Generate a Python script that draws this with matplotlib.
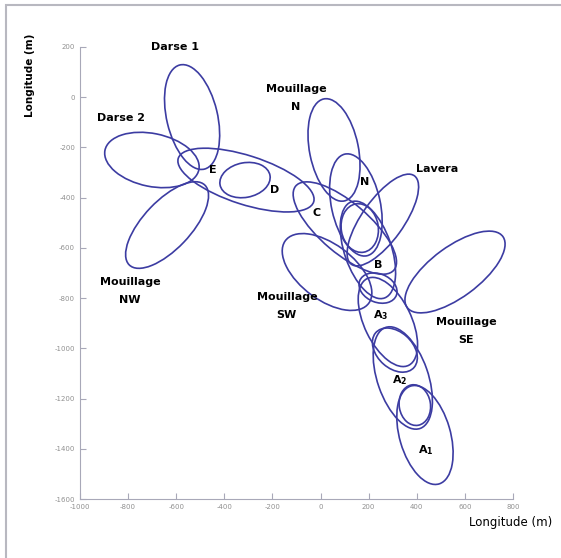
import numpy as np
import matplotlib
matplotlib.use('Agg')
import matplotlib.pyplot as plt
from matplotlib.patches import Ellipse, Rectangle

# ellipses : centre x, centre y, width, height, angle (deg)
names = ['Darse 1', 'Darse 2', 'NW', 'E-D', 'D', 'Mouillage N', 'N', 'Lavera',
         'C', 'inner', 'B', 'SW', 'SE', 'A3 small', 'A3', 'A2 small', 'A2',
         'A1 small', 'A1']
cx = [-534, -701, -638, -310, -314, 56, 147, 259, 101, 163, 197, 27, 559,
      239, 280, 309, 342, 392, 434]
cy = [-79, -250, -509, -330, -330, -210, -429, -489, -521, -521, -608, -696,
      -696, -760, -895, -1007, -1118, -1226, -1345]
ew = [427, 398, 447, 589, 211, 415, 415, 439, 528, 195, 407, 427, 488, 163,
      386, 211, 427, 163, 407]
eh = [211, 211, 195, 195, 138, 203, 203, 171, 203, 154, 195, 224, 203, 114,
      195, 146, 211, 130, 211]
ang = [104, -11, 45, -17, 10, 102, 103, 53, -39, 100, 110, -35, 35, -20, 117,
       -40, 110, 100, 107]

# labels
lab_txt = ['Darse 1', 'Darse 2', 'Mouillage\nN', 'E', 'D', 'C', 'N', 'Lavera',
           'B', 'Mouillage\nNW', 'Mouillage\nSW', 'A$_3$', 'Mouillage\nSE',
           'A$_2$', 'A$_1$']
lab_x = [-605, -830, -102, -447, -190, -15, 184, 484, 238, -792, -140, 251,
         605, 330, 438]
lab_y = [200, -83, -3, -290, -369, -461, -338, -286, -668, -772, -831, -867,
         -931, -1126, -1405]

xticks = [-1000, -800, -600, -400, -200, 0, 200, 400, 600, 800]
yticks = [200, 0, -200, -400, -600, -800, -1000, -1200, -1400, -1600]

plt.rcParams['font.family'] = ['DejaVu Sans']
plt.rcParams['axes.unicode_minus'] = False
plt.rcParams['mathtext.fontset'] = 'custom'
plt.rcParams['mathtext.rm'] = 'DejaVu Sans:bold'
plt.rcParams['mathtext.it'] = 'DejaVu Sans:bold'

fig = plt.figure(figsize=(5.61, 5.58), dpi=100)
fig.patches.append(Rectangle((0.011, -0.1), 1.2, 1.091, transform=fig.transFigure,
                             fill=False, ec='#b8b8c0', lw=1.5))
ax = fig.add_axes([0.1426, 0.1057, 0.7718, 0.8101])

for i in range(len(cx)):
    e = Ellipse((cx[i], cy[i]), ew[i], eh[i], angle=ang[i], fill=False,
                ec='#3c3ca2', lw=1.2)
    ax.add_patch(e)

for t, x, y in zip(lab_txt, lab_x, lab_y):
    ax.text(x, y, t, ha='center', va='center', fontsize=8, fontweight='bold',
            linespacing=1.95, clip_on=False)

ax.set_xlim(-1000, 800)
ax.set_ylim(-1600, 200)
ax.set_xticks(xticks)
ax.set_yticks(yticks)
ax.spines['top'].set_visible(False)
ax.spines['right'].set_visible(False)
for s in ['left', 'bottom']:
    ax.spines[s].set_color('#a8a8b8')
ax.tick_params(direction='in', length=4, colors='#a8a8b8', labelsize=5,
               labelcolor='#909090')

fig.text(0.054, 0.865, 'Longitude (m)', rotation=90, ha='center', va='center',
         fontsize=7.5, fontweight='bold')
fig.text(0.91, 0.063, 'Longitude (m)', ha='center', va='center', fontsize=8.5)

fig.savefig('out.png', dpi=100)
